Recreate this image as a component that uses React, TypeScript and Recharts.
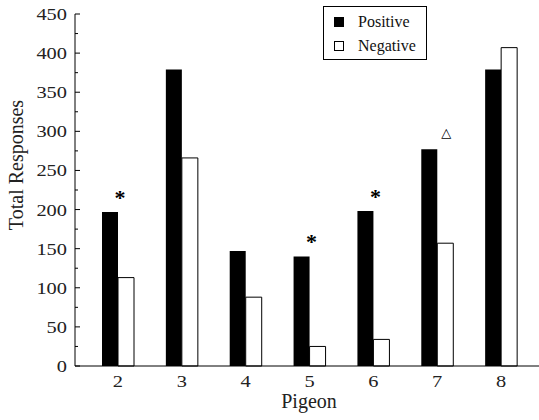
import { BarChart, Bar, XAxis, YAxis, Legend, LabelList, Label } from "recharts"

const pigeons = ["2", "3", "4", "5", "6", "7", "8"]
const positive = [197, 379, 147, 140, 198, 277, 379]
const negative = [113, 266, 88, 25, 34, 157, 407]
const marks = ["*", "", "", "*", "*", "\u25B3", ""]
const yTicks = [0, 25, 50, 75, 100, 125, 150, 175, 200, 225, 250, 275, 300, 325, 350, 375, 400, 425, 450]
const legendOrder = ["Positive", "Negative"]

const data = pigeons.map((p, i) => ({
  pigeon: p,
  positive: positive[i],
  negative: negative[i],
  mark: marks[i]
}))

const FONT = "'Liberation Serif', 'Times New Roman', serif"

function YTick({ x, y, payload }: any) {
  const v = payload.value
  const major = v % 50 === 0
  const axisX = x + 8
  return (
    <g>
      <line x1={axisX} x2={axisX + (major ? 5 : 3)} y1={y} y2={y} stroke="#000" strokeWidth={1} />
      {major && (
        <text
          x={0}
          y={0}
          textAnchor="end"
          fontFamily={FONT}
          fontSize={17}
          fill="#222"
          transform={`translate(${x}, ${y + 6}) scale(1.2, 1)`}
        >
          {v}
        </text>
      )}
    </g>
  )
}

function XTick({ x, y, payload }: any) {
  return (
    <text
      x={0}
      y={0}
      textAnchor="middle"
      fontFamily={FONT}
      fontSize={17}
      fill="#222"
      transform={`translate(${x}, ${y + 21}) scale(1.2, 1)`}
    >
      {payload.value}
    </text>
  )
}

function MarkLabel({ x, y, width, value }: any) {
  if (!value) return null
  const tri = value !== "*"
  return (
    <text
      x={x + width + (tri ? 9 : 2)}
      y={y - (tri ? 12 : 7)}
      textAnchor="middle"
      fontFamily={tri ? "'DejaVu Sans', sans-serif" : FONT}
      fontSize={tri ? 13 : 22}
      fontWeight={tri ? "normal" : "bold"}
      fill="#000"
    >
      {value}
    </text>
  )
}

function LegendBox({ payload }: any) {
  const items = legendOrder.map((name) => payload.find((p: any) => p.value === name)).filter(Boolean)
  return (
    <div
      style={{
        border: "1px solid #000",
        background: "#fff",
        width: 104,
        height: 54,
        boxSizing: "border-box",
        padding: "3px 0 0 10px",
        fontFamily: FONT,
        fontSize: 16,
        color: "#111"
      }}
    >
      {items.map((item: any) => (
        <div key={item.value} style={{ display: "flex", alignItems: "center", height: 24 }}>
          <span
            style={{
              display: "inline-block",
              width: 10,
              height: 10,
              boxSizing: "border-box",
              border: "1px solid #000",
              background: item.value === "Positive" ? "#000" : "#fff",
              marginRight: 14
            }}
          />
          {item.value}
        </div>
      ))}
    </div>
  )
}

export default function App() {
  return (
    <div style={{ position: "absolute", left: 0, top: 0, width: 539, height: 420, background: "#fff" }}>
      <BarChart
        width={539}
        height={420}
        data={data}
        margin={{ top: 14, right: 0, left: 0, bottom: 0 }}
        barGap={0}
        barSize={16}
      >
        <XAxis
          dataKey="pigeon"
          height={54}
          padding={{ left: 11, right: 6 }}
          axisLine={{ stroke: "#000", strokeWidth: 1 }}
          tickLine={false}
          tickSize={0}
          tickMargin={0}
          tick={<XTick />}
          interval={0}
        >
          <Label
            content={({ viewBox }: any) => (
              <text
                x={viewBox.x + viewBox.width / 2 + 2}
                y={viewBox.y + 42}
                textAnchor="middle"
                fontFamily={FONT}
                fontSize={20}
                fill="#222"
              >
                Pigeon
              </text>
            )}
          />
        </XAxis>
        <YAxis
          width={75}
          domain={[0, 450]}
          ticks={yTicks}
          interval={0}
          axisLine={{ stroke: "#000", strokeWidth: 1 }}
          tickLine={false}
          tickSize={0}
          tickMargin={8}
          tick={<YTick />}
        >
          <Label
            content={({ viewBox }: any) => {
              const cx = viewBox.x + 16
              const cy = viewBox.y + 151
              return (
                <text
                  x={cx}
                  y={cy}
                  textAnchor="middle"
                  dominantBaseline="central"
                  fontFamily={FONT}
                  fontSize={20}
                  fill="#222"
                  transform={`rotate(-90, ${cx}, ${cy})`}
                >
                  Total Responses
                </text>
              )
            }}
          />
        </YAxis>
        <Legend
          layout="vertical"
          align="center"
          verticalAlign="middle"
          content={<LegendBox />}
          wrapperStyle={{ position: "absolute", left: 323, top: 6, width: 105, height: 55 }}
        />
        <Bar dataKey="positive" name="Positive" fill="#000" isAnimationActive={false}>
          <LabelList dataKey="mark" content={<MarkLabel />} />
        </Bar>
        <Bar dataKey="negative" name="Negative" fill="#fff" stroke="#000" strokeWidth={1} isAnimationActive={false} />
      </BarChart>
    </div>
  )
}
